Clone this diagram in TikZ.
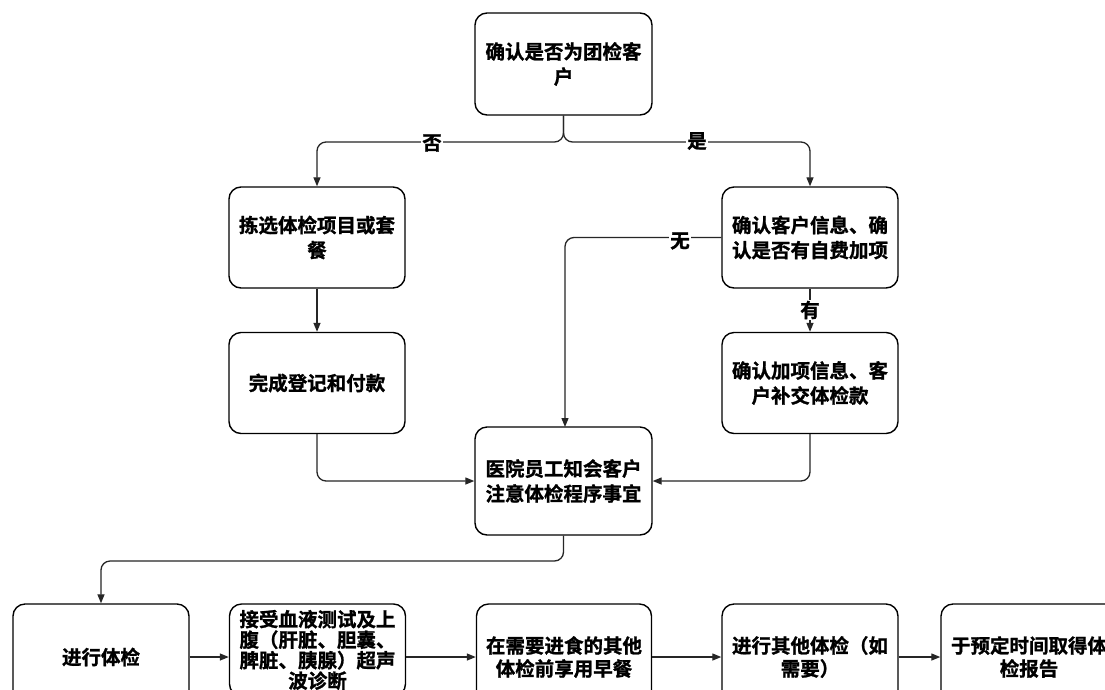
\documentclass[tikz,border=0pt]{standalone}
\usepackage{fontspec}
\newfontfamily\cjk[FakeBold=1.2]{Noto Sans CJK SC Bold}
\usetikzlibrary{arrows.meta}
\begin{document}
\begin{tikzpicture}[x=1pt,y=-1pt,
  box/.style={draw=black, line width=1.4pt, rounded corners=12pt, align=center,
    font=\cjk\fontsize{19.5pt}{25pt}\selectfont, inner sep=0pt,
    minimum width=176pt, minimum height=101pt},
  conn/.style={draw=black!85, line width=1.3pt, rounded corners=9pt,
    -{Triangle[length=9pt,width=7pt]}},
  lab/.style={font=\cjk\fontsize{19.5pt}{22pt}\selectfont, fill=white, inner sep=1pt}]
\clip (0,0) rectangle (1105,689);
\fill[white] (0,0) rectangle (1105,689);
\node[box, minimum width=177pt, minimum height=102pt] (top) at (563.5,64) {确认是否为团检客\\户};
\node[box] (l1) at (317,237.5) {拣选体检项目或套\\餐};
\node[box] (r1) at (810,237.5) {确认客户信息、确\\认是否有自费加项};
\node[box] (l2) at (317,383) {完成登记和付款};
\node[box] (r2) at (810,383) {确认加项信息、客\\户补交体检款};
\node[box, minimum width=177pt, minimum height=108pt] (c) at (563.5,481) {医院员工知会客户\\注意体检程序事宜};
\node[box, minimum height=106pt] (b1) at (101,657) {进行体检};
\node[box, minimum height=92pt, font=\cjk\fontsize{19.5pt}{20.5pt}\selectfont] (b2) at (317.5,650) {接受血液测试及上\\腹（肝脏、胆囊、\\脾脏、胰腺）超声\\波诊断};
\node[box, minimum width=175pt, minimum height=106pt, font=\cjk\fontsize{19.5pt}{23pt}\selectfont] (b3) at (564,657) {在需要进食的其他\\体检前享用早餐};
\node[box, minimum height=106pt, font=\cjk\fontsize{19.5pt}{23pt}\selectfont] (b4) at (810,657) {进行其他体检（如\\需要）};
\node[box, minimum height=106pt, font=\cjk\fontsize{19.5pt}{23pt}\selectfont] (b5) at (1029,657) {于预定时间取得体\\检报告};
% top split
\coordinate (sp) at (563.5,142);
\draw[conn] (top.south) -- (sp) -| (l1.north);
\draw[conn] (top.south) -- (sp) -| (r1.north);
\node[lab] (no) at (432,143) {否};
\node[lab] (yes) at (697,141) {是};
% left column
\draw[conn] (l1.south) -- (l2.north);
\draw[conn] (l2.south) |- (c.west);
% right column
\draw[conn] (r1.south) -- (r2.north);
\node[lab] (have) at (810,310) {有};
\draw[conn] (r1.west) -| (565,427);
\node[lab] (none) at (680,241) {无};
\draw[conn] (r2.south) |- (c.east);
% to bottom row
\coordinate (dn) at (563.5,561);
\draw[conn] (c.south) -- (dn) -| (b1.north);
\draw[conn] (b1.east) -- (b1.east -| b2.west);
\draw[conn] (b1.east -| b2.east) -- (b3.west);
\draw[conn] (b3.east) -- (b4.west);
\draw[conn] (b4.east) -- (b5.west);
\end{tikzpicture}
\end{document}
